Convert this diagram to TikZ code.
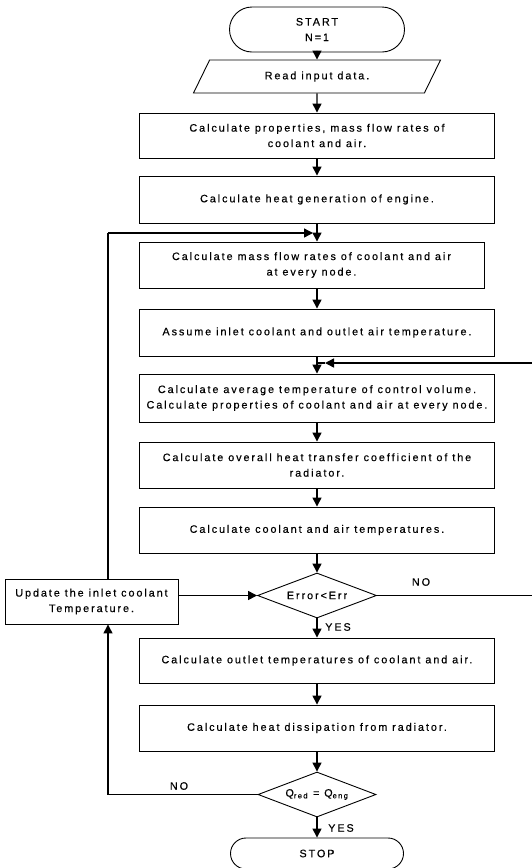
\documentclass[tikz,border=0pt]{standalone}
\usepackage{fontspec}
\setmainfont{Liberation Sans}[LetterSpace=18,FakeBold=0.4]
\usetikzlibrary{shapes.misc,shapes.geometric,arrows.meta}

\begin{document}
\begin{tikzpicture}[x=1pt,y=-1pt,
  font=\fontsize{10.8}{15.5}\selectfont,
  box/.style={draw, line width=0.9pt, minimum width=355, align=center, inner sep=0},
  term/.style={draw, rounded rectangle, line width=0.9pt, minimum width=175, minimum height=45, align=center, inner sep=0},
  io/.style={draw, trapezium, trapezium left angle=32, trapezium right angle=148, trapezium stretches body, minimum width=247, minimum height=33, line width=0.9pt, inner sep=0},
  dec/.style={draw, diamond, aspect=2.6, inner sep=0, line width=0.9pt},
  arr/.style={-{Triangle[length=9pt,width=9pt]}, line width=1.4pt},
  line/.style={line width=1.4pt}]

\useasboundingbox (0,0) rectangle (532,868);

\node [term] (start) at (317,29.5) {START\\N=1};
\node [io] (read) at (317,76.5) {Read input data.};
\node [box, minimum height=45] (b1) at (317,135.5) {Calculate properties, mass flow rates of\\coolant and air.};
\node [box, minimum height=47] (b2) at (317,199.5) {Calculate heat generation of engine.};
\node [box, minimum height=46, minimum width=345] (b3) at (311.5,265) {Calculate mass flow rates of coolant and air\\at every node.};
\node [box, minimum height=47] (b4) at (317,332.5) {Assume inlet coolant and outlet air temperature.};
\node [box, minimum height=48] (b5) at (317,398) {Calculate average temperature of control volume.\\Calculate properties of coolant and air at every node.};
\node [box, minimum height=46] (b6) at (317,465) {Calculate overall heat transfer coefficient of the\\radiator.};
\node [box, minimum height=46] (b7) at (317,530) {Calculate coolant and air temperatures.};
\node [dec, minimum width=119, minimum height=45] (err) at (317,595.5) {Error<Err};
\node [box, minimum width=173, minimum height=45] (upd) at (91.5,601.5) {Update the inlet coolant\\Temperature.};
\node [box, minimum height=45] (b8) at (317,660.5) {Calculate outlet temperatures of coolant and air.};
\node [box, minimum height=46] (b9) at (317,728) {Calculate heat dissipation from radiator.};
\node [dec, minimum width=118, minimum height=45, inner sep=-4pt] (qq) at (317,794.5) {Q\textsubscript{red} = Q\textsubscript{eng}};
\node [term, minimum width=173, minimum height=31] (stop) at (317,853.5) {STOP};

\node (no1) at (421,582) {NO};
\node (yes1) at (338,627) {YES};
\node (no2) at (179,786) {NO};
\node (yes2) at (341,828) {YES};

\coordinate (j1) at (317,233);
\coordinate (c1) at (108,233);
\coordinate (j2) at (317,363);
\coordinate (r1) at (545,363);

\draw [arr] (start.south) -- (read.north);
\draw [arr] (read.south) -- (b1.north);
\draw [arr] (b1.south) -- (b2.north);
\draw [arr] (b2.south) -- (b2.south |- b3.north);
\draw [arr] (b3.south -| b2.south) -- (b4.north);
\draw [arr] (b4.south) -- (b5.north);
\draw [arr] (b5.south) -- (b6.north);
\draw [arr] (b6.south) -- (b7.north);
\draw [arr] (b7.south) -- (err.north);
\draw [arr] (err.south) -- (b8.north);
\draw [arr] (b8.south) -- (b9.north);
\draw [arr] (b9.south) -- (qq.north);
\draw [arr] (qq.south) -- (stop.north);

\draw [line] (upd.north -| c1) -- (c1);
\draw [arr] (c1) -- ([xshift=-4pt]j1);
\draw [line] (err.east) -- (err.east -| r1) -- (r1);
\draw [arr] (r1) -- ([xshift=8pt]j2);
\draw [line] ([xshift=8pt]j2) -- (j2);
\draw [arr] (upd.east |- err.west) -- (err.west);
\draw [line] (qq.west) -- (qq.west -| c1);
\draw [arr] (qq.west -| c1) -- (upd.south -| c1);

\end{tikzpicture}
\end{document}
